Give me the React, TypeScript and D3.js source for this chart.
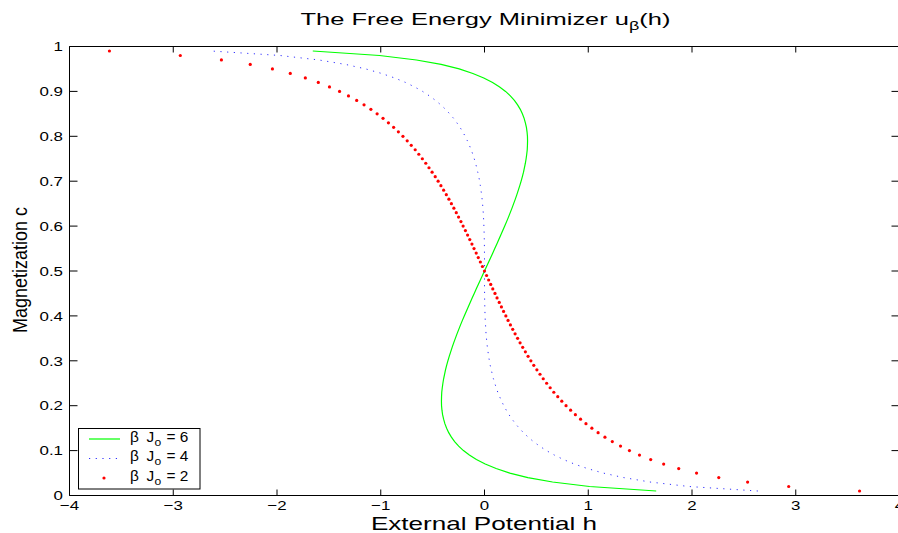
import React from "react";
import * as d3 from "d3";

// Magnetization c sampled on a 0.01 grid
const magnetization = [
  0.01, 0.02, 0.03, 0.04, 0.05, 0.06, 0.07, 0.08, 0.09, 0.10,
  0.11, 0.12, 0.13, 0.14, 0.15, 0.16, 0.17, 0.18, 0.19, 0.20,
  0.21, 0.22, 0.23, 0.24, 0.25, 0.26, 0.27, 0.28, 0.29, 0.30,
  0.31, 0.32, 0.33, 0.34, 0.35, 0.36, 0.37, 0.38, 0.39, 0.40,
  0.41, 0.42, 0.43, 0.44, 0.45, 0.46, 0.47, 0.48, 0.49, 0.50,
  0.51, 0.52, 0.53, 0.54, 0.55, 0.56, 0.57, 0.58, 0.59, 0.60,
  0.61, 0.62, 0.63, 0.64, 0.65, 0.66, 0.67, 0.68, 0.69, 0.70,
  0.71, 0.72, 0.73, 0.74, 0.75, 0.76, 0.77, 0.78, 0.79, 0.80,
  0.81, 0.82, 0.83, 0.84, 0.85, 0.86, 0.87, 0.88, 0.89, 0.90,
  0.91, 0.92, 0.93, 0.94, 0.95, 0.96, 0.97, 0.98, 0.99,
];

// External potential h for βJo = 6 (solid green)
const potentialJ6 = [
  1.655, 1.012, 0.656, 0.418, 0.244, 0.112, 0.007, -0.078, -0.146, -0.203,
  -0.249, -0.288, -0.319, -0.345, -0.365, -0.382, -0.394, -0.404, -0.410, -0.414,
  -0.415, -0.414, -0.412, -0.407, -0.401, -0.394, -0.385, -0.376, -0.365, -0.353,
  -0.340, -0.326, -0.312, -0.297, -0.281, -0.265, -0.248, -0.231, -0.213, -0.195,
  -0.176, -0.157, -0.138, -0.119, -0.099, -0.080, -0.060, -0.040, -0.020, 0,
  0.020, 0.040, 0.060, 0.080, 0.099, 0.119, 0.138, 0.157, 0.176, 0.195,
  0.213, 0.231, 0.248, 0.265, 0.281, 0.297, 0.312, 0.326, 0.340, 0.353,
  0.365, 0.376, 0.385, 0.394, 0.401, 0.407, 0.412, 0.414, 0.415, 0.414,
  0.410, 0.404, 0.394, 0.382, 0.365, 0.345, 0.319, 0.288, 0.249, 0.203,
  0.146, 0.078, -0.007, -0.112, -0.244, -0.418, -0.656, -1.012, -1.655,
];

// External potential h for βJo = 4 (dotted blue)
const potentialJ4 = [
  2.635, 1.972, 1.596, 1.338, 1.144, 0.992, 0.867, 0.762, 0.674, 0.597,
  0.531, 0.472, 0.421, 0.375, 0.335, 0.298, 0.266, 0.236, 0.210, 0.186,
  0.165, 0.146, 0.128, 0.113, 0.099, 0.086, 0.075, 0.065, 0.055, 0.047,
  0.040, 0.034, 0.028, 0.023, 0.019, 0.015, 0.012, 0.010, 0.007, 0.006,
  0.004, 0.003, 0.002, 0.001, 0.001, 0.0003, 0.0001, 0, 0, 0,
  0, 0, -0.0001, -0.0003, -0.001, -0.001, -0.002, -0.003, -0.004, -0.006,
  -0.007, -0.010, -0.012, -0.015, -0.019, -0.023, -0.028, -0.034, -0.040, -0.047,
  -0.055, -0.065, -0.075, -0.086, -0.099, -0.113, -0.128, -0.146, -0.165, -0.186,
  -0.210, -0.236, -0.266, -0.298, -0.335, -0.375, -0.421, -0.472, -0.531, -0.597,
  -0.674, -0.762, -0.867, -0.992, -1.144, -1.338, -1.596, -1.972, -2.635,
];

// External potential h for βJo = 2 (red dots)
const potentialJ2 = [
  3.615, 2.932, 2.536, 2.258, 2.044, 1.872, 1.727, 1.602, 1.494, 1.397,
  1.311, 1.232, 1.161, 1.095, 1.035, 0.978, 0.926, 0.876, 0.830, 0.786,
  0.745, 0.706, 0.668, 0.633, 0.599, 0.566, 0.535, 0.505, 0.475, 0.447,
  0.420, 0.394, 0.368, 0.343, 0.319, 0.295, 0.272, 0.250, 0.227, 0.206,
  0.184, 0.163, 0.142, 0.121, 0.101, 0.080, 0.060, 0.040, 0.020, 0,
  -0.020, -0.040, -0.060, -0.080, -0.101, -0.121, -0.142, -0.163, -0.184, -0.206,
  -0.227, -0.250, -0.272, -0.295, -0.319, -0.343, -0.368, -0.394, -0.420, -0.447,
  -0.475, -0.505, -0.535, -0.566, -0.599, -0.633, -0.668, -0.706, -0.745, -0.786,
  -0.830, -0.876, -0.926, -0.978, -1.035, -1.095, -1.161, -1.232, -1.311, -1.397,
  -1.494, -1.602, -1.727, -1.872, -2.044, -2.258, -2.536, -2.932, -3.615,
];

const xTicks = [-4, -3, -2, -1, 0, 1, 2, 3, 4];
const yTicks = [0, 0.1, 0.2, 0.3, 0.4, 0.5, 0.6, 0.7, 0.8, 0.9, 1];
const yTickLabels = ["0", "0.1", "0.2", "0.3", "0.4", "0.5", "0.6", "0.7", "0.8", "0.9", "1"];
const legendValues = ["6", "4", "2"];

const W = 898;
const H = 533;
const FONT = "'Liberation Sans', Arial, Helvetica, sans-serif";

const x = d3.scaleLinear().domain([-4, 4]).range([69.5, 899.5]);
const y = d3.scaleLinear().domain([0, 1]).range([495.5, 46.5]);

type Pt = [number, number];
const pairs = (hs: number[]): Pt[] =>
  hs.map((h, i) => [h, magnetization[i]] as Pt).filter((p) => p[1] !== undefined);

const line = d3
  .line<Pt>()
  .x((d) => x(d[0]))
  .y((d) => y(d[1]));

// Horizontally widened text, as the figure is rendered wide
function SText(props: {
  x: number;
  y: number;
  sx?: number;
  size: number;
  anchor?: string;
  children: React.ReactNode;
}) {
  const { sx = 1.3, size, anchor = "start" } = props;
  return (
    <text
      transform={`translate(${props.x},${props.y}) scale(${sx},1)`}
      fontSize={size}
      fontFamily={FONT}
      textAnchor={anchor}
      fill="#000"
    >
      {props.children}
    </text>
  );
}

export default function App() {
  const green = pairs(potentialJ6);
  const blue = pairs(potentialJ4);
  const red = pairs(potentialJ2);

  const [x0, x1] = x.range();
  const [y0, y1] = y.range();

  const legendRows = [439, 458.5, 478];

  return (
    <svg
      width={W}
      height={H}
      viewBox={`0 0 ${W} ${H}`}
      style={{ position: "absolute", left: 0, top: 0, background: "#fff" }}
    >
      <rect x={0} y={0} width={W} height={H} fill="#fff" />

      {/* curves */}
      <path d={line(green) || ""} fill="none" stroke="#00ff00" strokeWidth={1.2} />
      <path
        d={line(blue) || ""}
        fill="none"
        stroke="#3030ff"
        strokeWidth={1}
        strokeDasharray="1.2 5.5"
      />
      {red.map((d, i) => (
        <circle key={i} cx={x(d[0])} cy={y(d[1])} r={1.6} fill="#ff0000" />
      ))}

      {/* axes box */}
      <path
        d={`M${x0},${y1}H${x1}V${y0}H${x0}Z`}
        fill="none"
        stroke="#000"
        strokeWidth={1}
      />

      {/* x ticks */}
      {xTicks.map((t) => (
        <g key={`xt${t}`}>
          <line x1={x(t)} x2={x(t)} y1={y0} y2={y0 - 6} stroke="#000" />
          <line x1={x(t)} x2={x(t)} y1={y1} y2={y1 + 6} stroke="#000" />
          <SText x={x(t)} y={509.5} size={13} anchor="middle">
            {t < 0 ? `\u2212${Math.abs(t)}` : `${t}`}
          </SText>
        </g>
      ))}

      {/* y ticks */}
      {yTicks.map((t, i) => (
        <g key={`yt${i}`}>
          <line x1={x0} x2={x0 + 8} y1={y(t)} y2={y(t)} stroke="#000" />
          <line x1={x1} x2={x1 - 8} y1={y(t)} y2={y(t)} stroke="#000" />
          <SText x={63} y={y(t) + 4.7} size={13} anchor="end">
            {yTickLabels[i]}
          </SText>
        </g>
      ))}

      {/* title */}
      <SText x={485.5} y={25} size={17} sx={1.5} anchor="middle">
        The Free Energy Minimizer u
        <tspan fontSize={12} dy={5}>
          β
        </tspan>
        <tspan dy={-5}>(h)</tspan>
      </SText>

      {/* axis labels */}
      <SText x={484} y={529.5} size={18} sx={1.45} anchor="middle">
        External Potential h
      </SText>
      <text
        transform="translate(27,270) rotate(-90) scale(1,1.15)"
        fontSize={18}
        fontFamily={FONT}
        textAnchor="middle"
        fill="#000"
      >
        Magnetization c
      </text>

      {/* legend */}
      <rect x={78.5} y={428.5} width={121.5} height={60.5} fill="#fff" stroke="#000" strokeWidth={1} />
      <line x1={89} x2={120} y1={legendRows[0]} y2={legendRows[0]} stroke="#00ff00" strokeWidth={1.2} />
      <line
        x1={89}
        x2={120}
        y1={legendRows[1]}
        y2={legendRows[1]}
        stroke="#3030ff"
        strokeWidth={1}
        strokeDasharray="1.2 5.5"
      />
      <circle cx={104} cy={legendRows[2]} r={1.6} fill="#ff0000" />
      {legendValues.map((v, i) => (
        <g key={`lg${v}`}>
          <SText x={130} y={legendRows[i] + 2.5} size={14} sx={1.1}>
            β
          </SText>
          <SText x={146.5} y={legendRows[i] + 2.5} size={14} sx={1.1}>
            J
          </SText>
          <SText x={154.5} y={legendRows[i] + 6.5} size={11} sx={1.1}>
            o
          </SText>
          <SText x={166.5} y={legendRows[i] + 2.5} size={14} sx={1.1}>
            {`= ${v}`}
          </SText>
        </g>
      ))}
    </svg>
  );
}
